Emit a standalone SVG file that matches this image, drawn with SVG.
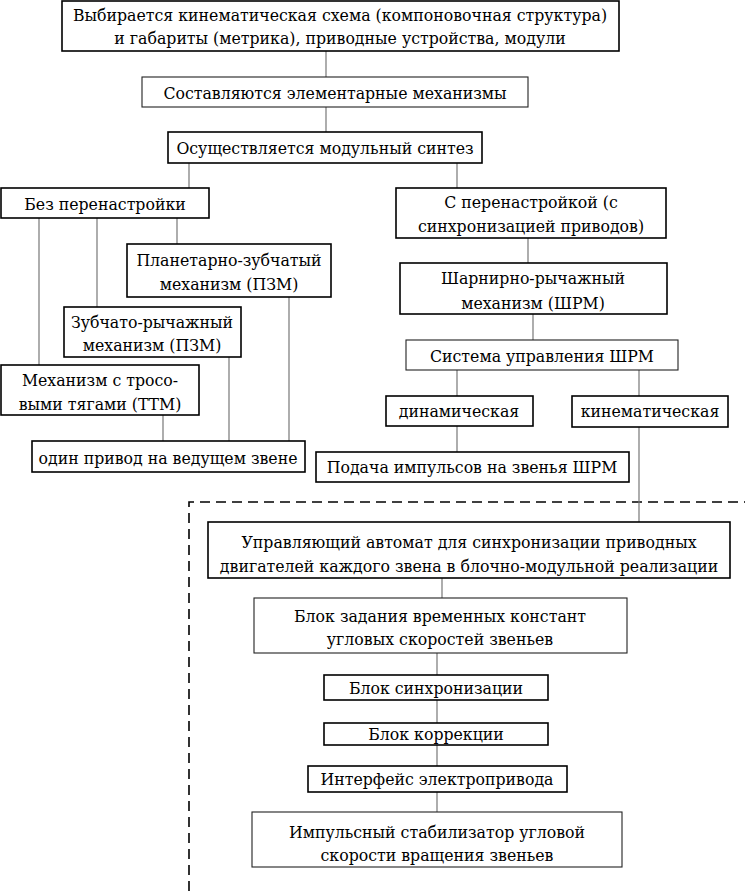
<svg xmlns="http://www.w3.org/2000/svg" width="745" height="891" viewBox="0 0 745 891">
<style>
rect{fill:#fff;stroke:#000;stroke-width:1.6}
rect.t{stroke-width:1.1;stroke:#222}
text{font-family:"DejaVu Serif Condensed","DejaVu Serif",serif;font-stretch:condensed;font-size:17.5px;fill:#000;text-anchor:middle}
#connectors line{stroke:#777;stroke-width:1.2}
#frame{fill:none;stroke:#000;stroke-width:1.6;stroke-dasharray:10 6}
</style>
<rect x="0" y="0" width="745" height="891" style="fill:#fff;stroke:none"/>
<path id="frame" d="M189,891 V502 H745"/>
<g id="connectors">
<line x1="326" y1="51" x2="326" y2="77"/>
<line x1="326" y1="107" x2="326" y2="132"/>
<line x1="189" y1="163" x2="189" y2="188"/>
<line x1="457" y1="163" x2="457" y2="188"/>
<line x1="39" y1="218" x2="39" y2="365"/>
<line x1="97" y1="218" x2="97" y2="307"/>
<line x1="177" y1="218" x2="177" y2="244"/>
<line x1="163" y1="415" x2="163" y2="441"/>
<line x1="229" y1="357" x2="229" y2="441"/>
<line x1="289" y1="297" x2="289" y2="441"/>
<line x1="528" y1="238" x2="528" y2="263"/>
<line x1="533" y1="314" x2="533" y2="340"/>
<line x1="457" y1="370" x2="457" y2="396"/>
<line x1="639" y1="370" x2="639" y2="396"/>
<line x1="457" y1="426" x2="457" y2="452"/>
<line x1="639" y1="427" x2="639" y2="522"/>
<line x1="442" y1="578" x2="442" y2="598"/>
<line x1="437" y1="653" x2="437" y2="675"/>
<line x1="437" y1="700" x2="437" y2="723"/>
<line x1="437" y1="745" x2="437" y2="766"/>
<line x1="437" y1="792" x2="437" y2="812"/>
</g>
<g id="n1"><rect x="62" y="1" width="557" height="50"/><text x="340" y="21">Выбирается кинематическая схема (компоновочная структура)</text><text x="340" y="44">и габариты (метрика), приводные устройства, модули</text></g>
<g id="n2"><rect class="t" x="142" y="77" width="386" height="30"/><text x="335" y="99">Составляются элементарные механизмы</text></g>
<g id="n3"><rect x="168" y="132" width="314" height="31"/><text x="325" y="154">Осуществляется модульный синтез</text></g>
<g id="n4"><rect x="1" y="188" width="208" height="30"/><text x="105" y="210">Без перенастройки</text></g>
<g id="n5"><rect x="396" y="188" width="270" height="50"/><text x="531" y="208">С перенастройкой (с</text><text x="531" y="232">синхронизацией приводов)</text></g>
<g id="n6"><rect x="127" y="244" width="204" height="53"/><text x="229" y="266">Планетарно-зубчатый</text><text x="229" y="290">механизм (ПЗМ)</text></g>
<g id="n7"><rect x="64" y="307" width="177" height="50"/><text x="152" y="328">Зубчато-рычажный</text><text x="152" y="351">механизм (ПЗМ)</text></g>
<g id="n8"><rect x="1" y="365" width="198" height="50"/><text x="100" y="386">Механизм с тросо-</text><text x="100" y="410">выми тягами (ТТМ)</text></g>
<g id="n9"><rect x="32" y="441" width="273" height="31"/><text x="168" y="464">один привод на ведущем звене</text></g>
<g id="n10"><rect x="400" y="263" width="267" height="51"/><text x="533" y="284">Шарнирно-рычажный</text><text x="533" y="309">механизм (ШРМ)</text></g>
<g id="n11"><rect class="t" x="406" y="340" width="272" height="30"/><text x="542" y="362">Система управления ШРМ</text></g>
<g id="n12"><rect x="386" y="396" width="147" height="30"/><text x="459" y="417">динамическая</text></g>
<g id="n13"><rect x="572" y="396" width="156" height="31"/><text x="650" y="417">кинематическая</text></g>
<g id="n14"><rect x="316" y="452" width="313" height="30"/><text x="472" y="473">Подача импульсов на звенья ШРМ</text></g>
<g id="n15"><rect x="208" y="522" width="522" height="56"/><text x="469" y="548">Управляющий автомат для синхронизации приводных</text><text x="469" y="572">двигателей каждого звена в блочно-модульной реализации</text></g>
<g id="n16"><rect class="t" x="254" y="598" width="373" height="55"/><text x="440" y="622">Блок задания временных констант</text><text x="440" y="645">угловых скоростей звеньев</text></g>
<g id="n17"><rect x="324" y="675" width="224" height="25"/><text x="436" y="694">Блок синхронизации</text></g>
<g id="n18"><rect x="324" y="723" width="224" height="22"/><text x="436" y="740">Блок коррекции</text></g>
<g id="n19"><rect x="308" y="766" width="259" height="26"/><text x="437" y="785">Интерфейс электропривода</text></g>
<g id="n20"><rect class="t" x="252" y="812" width="370" height="55"/><text x="437" y="838">Импульсный стабилизатор угловой</text><text x="437" y="861">скорости вращения звеньев</text></g>
</svg>
